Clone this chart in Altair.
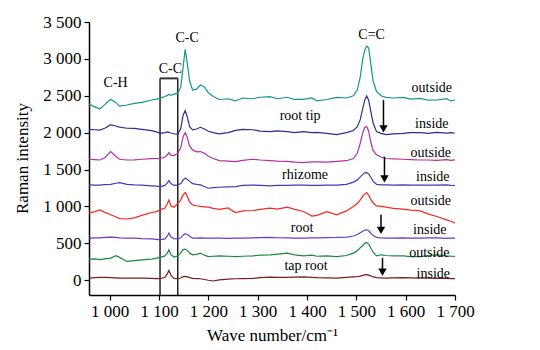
import altair as alt
import pandas as pd

# ---------------- data ----------------
wave = [958, 970, 980, 990, 1002, 1012, 1020, 1035, 1050, 1065, 1085, 1095, 1102, 1112,
        1117, 1120, 1124, 1130, 1138, 1144, 1149, 1153, 1157, 1162, 1168, 1176, 1184,
        1192, 1200, 1210, 1222, 1240, 1255, 1270, 1290, 1305, 1325, 1340, 1360, 1375,
        1393, 1410, 1420, 1440, 1460, 1480, 1494, 1502, 1508, 1513, 1517, 1521, 1525,
        1529, 1534, 1541, 1550, 1560, 1575, 1595, 1610, 1630, 1645, 1663, 1683, 1692, 1700]

root_tip_outside = [2388, 2350, 2320, 2380, 2452, 2410, 2360, 2375, 2397, 2410, 2443, 2455,
                    2465, 2490, 2505, 2520, 2505, 2520, 2535, 2620, 2900, 3128, 2950, 2700,
                    2578, 2590, 2646, 2620, 2540, 2490, 2450, 2460, 2430, 2470, 2460, 2480,
                    2488, 2460, 2480, 2450, 2452, 2470, 2430, 2450, 2479, 2470, 2500, 2580,
                    2760, 3000, 3119, 3173, 3150, 2950, 2700, 2555, 2500, 2479, 2470, 2479,
                    2455, 2465, 2440, 2443, 2460, 2430, 2443]
root_tip_inside = [2046, 2040, 2035, 2060, 2109, 2090, 2075, 2060, 2059, 2045, 2028, 2010,
                   1990, 2000, 2010, 2005, 1995, 1985, 1975, 2060, 2240, 2298, 2220, 2080,
                   2037, 2050, 2073, 2050, 2020, 2000, 1983, 2000, 2030, 2045, 2040, 2020,
                   2014, 2025, 2014, 2000, 2014, 2000, 2005, 1990, 1975, 2000, 2030, 2080,
                   2180, 2330, 2440, 2497, 2440, 2300, 2130, 2014, 1990, 1975, 1985, 1990,
                   2000, 2000, 1990, 2005, 1995, 2000, 1992]
rhizome_outside = [1640, 1635, 1630, 1660, 1744, 1680, 1640, 1630, 1631, 1640, 1649, 1650,
                   1650, 1670, 1700, 1730, 1695, 1690, 1720, 1800, 1950, 2000, 1940, 1820,
                   1766, 1740, 1744, 1720, 1680, 1650, 1622, 1615, 1608, 1625, 1640, 1630,
                   1622, 1615, 1610, 1600, 1595, 1605, 1605, 1600, 1610, 1620, 1650, 1720,
                   1860, 2000, 2070, 2082, 2020, 1880, 1760, 1700, 1670, 1650, 1645, 1640,
                   1635, 1630, 1630, 1625, 1635, 1625, 1631]
rhizome_inside = [1293, 1290, 1290, 1295, 1300, 1315, 1324, 1300, 1293, 1290, 1280, 1275,
                  1270, 1285, 1320, 1351, 1310, 1285, 1293, 1310, 1360, 1383, 1370, 1340,
                  1310, 1300, 1293, 1270, 1247, 1255, 1260, 1265, 1270, 1285, 1290, 1285,
                  1279, 1285, 1285, 1290, 1290, 1285, 1285, 1290, 1290, 1300, 1330, 1360,
                  1400, 1435, 1455, 1459, 1440, 1400, 1340, 1300, 1293, 1293, 1290, 1293,
                  1290, 1290, 1288, 1290, 1293, 1285, 1284]
root_outside = [909, 930, 954, 920, 887, 860, 835, 830, 845, 880, 918, 930,
                954, 980, 1040, 1089, 1010, 990, 1040, 1090, 1160, 1189, 1140, 1060,
                1022, 1010, 1000, 995, 990, 975, 960, 980, 918, 940, 945, 960,
                977, 965, 990, 960, 932, 870, 880, 930, 887, 940, 999, 1040,
                1089, 1140, 1170, 1189, 1150, 1100, 1050, 1008, 1000, 990, 975, 963,
                950, 940, 900, 864, 819, 800, 774]
root_inside = [571, 575, 575, 580, 585, 580, 575, 572, 571, 565, 560, 555,
               548, 560, 600, 639, 590, 565, 560, 575, 615, 630, 620, 595,
               571, 572, 575, 572, 571, 570, 571, 568, 570, 572, 575, 578,
               580, 576, 575, 572, 571, 573, 575, 578, 580, 585, 600, 620,
               645, 665, 680, 684, 670, 640, 605, 580, 575, 571, 572, 575,
               572, 571, 573, 575, 568, 570, 571]
tap_root_outside = [287, 290, 280, 290, 300, 332, 310, 255, 265, 275, 287, 300,
                    310, 330, 370, 413, 350, 315, 330, 370, 415, 422, 405, 370,
                    345, 350, 368, 340, 320, 325, 330, 325, 320, 325, 330, 340,
                    345, 355, 368, 345, 330, 340, 325, 330, 320, 335, 368, 400,
                    440, 470, 500, 512, 490, 440, 380, 330, 345, 335, 330, 330,
                    320, 320, 335, 345, 330, 325, 323]
tap_root_inside = [30, 35, 40, 38, 35, 32, 30, 28, 30, 28, 25, 22,
                   20, 40, 90, 133, 70, 25, 20, 30, 48, 52, 45, 35,
                   25, 22, 20, 10, 0, -10, 5, 15, 20, 22, 25, 35,
                   43, 40, 40, 42, 45, 40, 35, 32, 30, 38, 45, 50,
                   55, 65, 72, 75, 70, 60, 45, 35, 32, 30, 32, 35,
                   32, 30, 28, 25, 25, 22, 21]

series_names = ["root tip outside", "root tip inside", "rhizome outside", "rhizome inside",
                "root outside", "root inside", "tap root outside", "tap root inside"]
series_values = [root_tip_outside, root_tip_inside, rhizome_outside, rhizome_inside,
                 root_outside, root_inside, tap_root_outside, tap_root_inside]
series_colors = ["#13968c", "#2b2f8f", "#b52fa3", "#3b3db3",
                 "#f22a22", "#6a3dbf", "#1a8a3e", "#7a1c1c"]

# annotation texts
label_text = ["outside", "inside", "outside", "inside", "outside", "inside", "outside", "inside",
              "root tip", "rhizome", "root", "tap root", "C-H", "C-C", "C-C", "C=C"]
label_x = [1653, 1653, 1651, 1655, 1651, 1649, 1648, 1656,
           1386, 1396, 1390, 1398, 1012, 1123, 1157, 1531]
label_y = [2608, 2113, 1721, 1404, 1076, 683, 368, 88,
           2226, 1427, 714, 187, 2668, 2862, 3277, 3322]

# arrows (top -> bottom)
arrow_x = [1555, 1557, 1550, 1553]
arrow_top = [2442, 1675, 886, 300]
arrow_bottom = [1992, 1315, 616, 51]

# C-C bracket box
box_left, box_right, box_top = 1102, 1138, 2736

x_ticks = [1000, 1100, 1200, 1300, 1400, 1500, 1600, 1700]
y_ticks = [0, 500, 1000, 1500, 2000, 2500, 3000, 3500]

# ---------------- frames ----------------
rows = []
for name, vals in zip(series_names, series_values):
    assert len(vals) == len(wave), name
    for w, v in zip(wave, vals):
        rows.append({"series": name, "wave": w, "intensity": v})
df = pd.DataFrame(rows)

df_labels = pd.DataFrame({"text": label_text, "x": label_x, "y": label_y})
df_arrows = pd.DataFrame({"x": arrow_x, "y": arrow_top, "y2": arrow_bottom,
                          "yh": [b + 60 for b in arrow_bottom]})
df_box_v = pd.DataFrame({"x": [box_left, box_right], "y": [-200, -200], "y2": [box_top, box_top]})
df_box_h = pd.DataFrame({"x": [box_left], "x2": [box_right], "y": [box_top]})

FONT = "Liberation Serif"
xscale = alt.Scale(domain=[958, 1700], nice=False, zero=False)
yscale = alt.Scale(domain=[-200, 3500], nice=False, zero=False)
fmt = "replace(format(datum.value, ',d'), ',', ' ')"

x_axis = alt.Axis(values=x_ticks, labelExpr=fmt, title="Wave number/cm\u207b\u00b9",
                  labelOverlap=False, labelFlush=False,
                  titleY=40, titleBaseline="middle", titleAlign="center", titleX=183)
y_axis = alt.Axis(values=y_ticks, labelExpr=fmt, title="Raman intensity",
                  labelOverlap=False, labelFlush=False,
                  titleX=-67, titleY=136, titleAngle=-90, titleAlign="center",
                  titleBaseline="middle")


def X(field):
    return alt.X(field, type="quantitative", scale=xscale, axis=x_axis)


def Y(field):
    return alt.Y(field, type="quantitative", scale=yscale, axis=y_axis)


lines = alt.Chart(df).mark_line(strokeWidth=1.2, clip=True).encode(
    x=X("wave"),
    y=Y("intensity"),
    color=alt.Color("series:N", scale=alt.Scale(domain=series_names, range=series_colors),
                    legend=None),
    detail="series:N",
)

texts = alt.Chart(df_labels).mark_text(font=FONT, fontSize=14, color="black").encode(
    x=X("x"), y=Y("y"), text="text:N")

arrow_lines = alt.Chart(df_arrows).mark_rule(color="black", strokeWidth=1.5).encode(
    x=X("x"), y=Y("y"), y2="yh:Q")
arrow_heads = alt.Chart(df_arrows).mark_point(shape="triangle-down", filled=True,
                                              color="black", size=70, opacity=1).encode(
    x=X("x"), y=Y("yh"))

box_v = alt.Chart(df_box_v).mark_rule(color="black", strokeWidth=1.3).encode(
    x=X("x"), y=Y("y"), y2="y2:Q")
box_h = alt.Chart(df_box_h).mark_rule(color="#333333", strokeWidth=2).encode(
    x=X("x"), x2="x2:Q", y=Y("y"))

chart = alt.layer(box_v, box_h, lines, arrow_lines, arrow_heads, texts).properties(
    width=366, height=273,
    autosize=alt.AutoSizeParams(type="none"),
    padding={"left": 89, "top": 22, "right": 85, "bottom": 55},
    background="white",
).configure_axis(
    grid=False, domainColor="black", domainWidth=1.5, tickColor="black", tickSize=5,
    tickWidth=1.2, labelFont=FONT, labelFontSize=17, labelColor="black", labelPadding=3,
    titleFont=FONT, titleFontSize=17, titleFontWeight="normal", titleColor="black",
).configure_view(stroke=None)

chart.save("out.html", embed_options={"renderer": "svg", "actions": False})
